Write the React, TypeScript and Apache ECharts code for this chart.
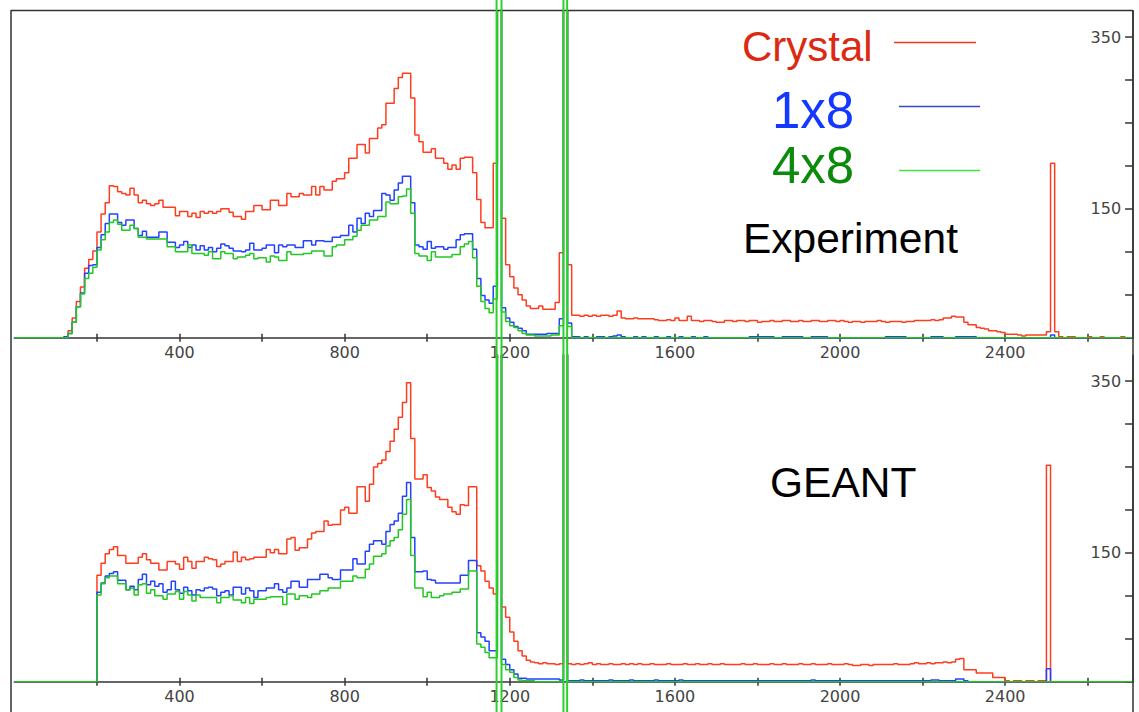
import React, { useEffect, useRef } from "react";
import * as echarts from "echarts";

// ---- axis definitions ----
const X_MIN = 0;
const X_MAX = 2710;
const Y_MAX = 380;
const BIN_START = 100;
const BIN_WIDTH = 10;
const xTicks = [200, 400, 600, 800, 1000, 1200, 1400, 1600, 1800, 2000, 2200, 2400, 2600];
const xTickLabels = [400, 800, 1200, 1600, 2000, 2400];
const yTicks = [0, 50, 100, 150, 200, 250, 300, 350];
const yTickLabels = [150, 350];
// Co-60 full-energy peak edges (off-scale bins), keV
const coLineEdges = [1168, 1180, 1330, 1339];

// ---- Experiment (top panel), bins of 10 starting at 100 ----
const crystalExp = [
  0, 0, 1, 8, 23, 42, 59, 81, 91, 101,
  123, 144, 157, 177, 176, 170, 168, 166, 174, 166,
  157, 160, 156, 154, 156, 160, 152, 152, 152, 142,
  147, 147, 141, 145, 140, 147, 145, 147, 145, 147,
  150, 150, 146, 141, 141, 138, 147, 147, 154, 154,
  149, 149, 160, 160, 154, 154, 168, 164, 164, 168,
  166, 166, 176, 166, 176, 172, 172, 182, 185, 185,
  192, 209, 209, 225, 225, 215, 232, 232, 244, 248,
  273, 273, 290, 303, 308, 308, 279, 236, 228, 216,
  216, 220, 209, 209, 203, 196, 201, 196, 209, 210,
  210, 192, 161, 134, 128, 128, 203, 400, 139, 85,
  71, 58, 50, 44, 37, 34, 34, 37, 33, 33,
  33, 41, 99, 400, 85, 26, 26, 25, 26, 25,
  26, 25, 26, 26, 25, 26, 31, 23, 22, 22,
  23, 22, 22, 22, 22, 21, 20, 20, 21, 20,
  23, 20, 20, 25, 20, 20, 19, 20, 20, 19,
  18, 18, 20, 20, 19, 20, 20, 19, 20, 20,
  18, 19, 19, 20, 19, 19, 20, 20, 19, 19,
  20, 19, 19, 20, 20, 19, 19, 20, 20, 19,
  20, 19, 18, 19, 19, 18, 19, 19, 19, 20,
  19, 18, 19, 19, 19, 18, 19, 19, 20, 20,
  20, 20, 21, 20, 21, 23, 23, 25, 24, 24,
  18, 15, 15, 12, 11, 10, 8, 8, 7, 6,
  4, 4, 4, 3, 2, 3, 3, 3, 3, 3,
  7, 203, 7, 1, 0, 1, 1, 0, 0, 0,
  1, 0, 0, 1, 0, 0, 0, 0, 1, 0,
];
const oneByEightExp = [
  0, 0, 1, 5, 18, 36, 52, 75, 84, 85,
  105, 120, 133, 144, 144, 134, 131, 137, 137, 127,
  119, 124, 117, 117, 117, 123, 123, 111, 111, 105,
  108, 112, 105, 108, 102, 107, 102, 105, 100, 104,
  109, 107, 104, 101, 101, 100, 102, 110, 102, 102,
  104, 108, 108, 99, 108, 106, 108, 108, 105, 105,
  113, 113, 108, 113, 113, 112, 112, 117, 117, 119,
  119, 131, 123, 139, 133, 145, 141, 148, 148, 168,
  166, 160, 172, 180, 188, 188, 157, 108, 106, 103,
  112, 104, 106, 106, 103, 105, 105, 114, 120, 121,
  121, 103, 69, 49, 44, 40, 60, 400, 35, 23,
  18, 13, 11, 8, 4, 4, 4, 4, 4, 5,
  5, 5, 22, 400, 17, 1, 1, 0, 1, 0,
  0, 1, 1, 0, 1, 2, 3, 1, 0, 0,
  1, 0, 1, 0, 0, 1, 0, 0, 1, 0,
  0, 1, 0, 0, 1, 0, 0, 1, 0, 0,
  0, 0, 0, 0, 0, 0, 0, 0, 1, 1,
  1, 1, 1, 1, 0, 0, 1, 1, 1, 1,
  1, 0, 0, 1, 1, 1, 1, 0, 0, 0,
  0, 0, 0, 0, 0, 0, 0, 0, 0, 0,
  0, 1, 1, 1, 1, 1, 0, 0, 0, 0,
  0, 0, 1, 1, 1, 0, 0, 0, 1, 1,
  1, 1, 1, 0, 0, 0, 0, 0, 0, 0,
  0, 0, 0, 0, 0, 0, 0, 0, 0, 0,
  0, 3, 0, 0, 0, 0, 0, 0, 0, 0,
];
const fourByEightExp = [
  0, 0, 0, 5, 18, 36, 51, 69, 75, 82,
  102, 114, 123, 134, 137, 132, 125, 125, 131, 127,
  117, 117, 115, 115, 115, 115, 115, 106, 106, 100,
  100, 100, 108, 98, 98, 98, 96, 100, 92, 92,
  100, 98, 98, 92, 94, 94, 96, 98, 92, 93,
  93, 88, 95, 94, 90, 90, 100, 97, 97, 97,
  98, 98, 101, 101, 101, 95, 95, 106, 108, 108,
  114, 114, 118, 125, 131, 131, 137, 137, 141, 141,
  158, 156, 156, 164, 165, 173, 145, 98, 95, 95,
  90, 100, 94, 94, 94, 94, 97, 97, 106, 109,
  112, 93, 60, 42, 34, 29, 45, 400, 30, 19,
  14, 12, 8, 5, 3, 3, 2, 2, 2, 2,
  3, 3, 14, 400, 13, 0, 0, 0, 0, 0,
];

// ---- GEANT (bottom panel), bins of 10 starting at 100 ----
const crystalSim = [
  0, 0, 0, 0, 0, 0, 0, 0, 0, 0,
  124, 138, 149, 154, 157, 147, 147, 138, 138, 138,
  145, 149, 142, 138, 138, 130, 130, 140, 140, 137,
  131, 145, 140, 132, 140, 140, 145, 143, 142, 134,
  137, 140, 140, 151, 140, 145, 142, 143, 145, 145,
  145, 154, 150, 154, 149, 149, 166, 168, 153, 156,
  156, 166, 173, 175, 175, 187, 182, 183, 183, 200,
  203, 196, 196, 227, 227, 210, 230, 250, 254, 258,
  268, 280, 294, 308, 325, 348, 283, 236, 236, 241,
  226, 222, 215, 212, 212, 203, 198, 195, 206, 205,
  227, 227, 135, 129, 117, 109, 102, 400, 87, 75,
  58, 47, 36, 30, 25, 23, 22, 21, 22, 21,
  21, 20, 21, 400, 21, 20, 21, 20, 21, 22,
  20, 21, 20, 20, 21, 20, 20, 21, 20, 21,
  20, 21, 20, 20, 21, 20, 20, 20, 21, 20,
  20, 20, 21, 20, 20, 21, 20, 20, 21, 20,
  20, 21, 20, 20, 20, 20, 21, 20, 20, 21,
  20, 20, 20, 21, 20, 20, 21, 20, 20, 20,
  21, 20, 20, 21, 20, 20, 20, 21, 20, 20,
  20, 21, 20, 19, 19, 20, 20, 19, 20, 20,
  20, 20, 20, 21, 20, 20, 20, 21, 22, 21,
  21, 22, 21, 22, 22, 23, 22, 23, 26, 27,
  14, 14, 14, 10, 10, 10, 10, 5, 5, 5,
  1, 0, 1, 1, 0, 1, 1, 0, 1, 1,
  252, 0, 0, 0, 0, 0, 0, 0, 0, 0,
];
const oneByEightSim = [
  0, 0, 0, 0, 0, 0, 0, 0, 0, 0,
  104, 115, 123, 126, 128, 118, 118, 107, 111, 107,
  119, 125, 113, 117, 111, 114, 104, 107, 117, 107,
  103, 110, 106, 101, 107, 106, 109, 110, 108, 100,
  104, 106, 101, 110, 110, 102, 109, 106, 98, 106,
  106, 109, 109, 114, 107, 104, 109, 117, 117, 110,
  110, 119, 119, 119, 125, 125, 121, 119, 119, 130,
  130, 130, 143, 137, 137, 152, 160, 164, 164, 160,
  175, 183, 187, 196, 216, 232, 168, 128, 128, 129,
  119, 118, 115, 115, 115, 115, 115, 115, 124, 124,
  141, 141, 57, 52, 47, 36, 36, 400, 26, 20,
  14, 9, 4, 4, 3, 3, 3, 3, 3, 3,
  3, 3, 2, 400, 1, 1, 1, 2, 1, 1,
  1, 1, 1, 1, 2, 1, 1, 1, 1, 2,
  1, 1, 1, 1, 1, 2, 1, 1, 1, 1,
  1, 2, 1, 1, 1, 1, 1, 1, 1, 1,
  1, 1, 1, 1, 1, 1, 1, 1, 1, 1,
  1, 1, 1, 1, 1, 1, 1, 1, 1, 1,
  1, 1, 1, 2, 1, 1, 1, 1, 1, 1,
  1, 1, 1, 1, 1, 1, 1, 1, 1, 1,
  1, 1, 1, 1, 1, 1, 1, 1, 1, 1,
  1, 1, 2, 2, 1, 1, 1, 1, 3, 3,
  1, 0, 0, 0, 0, 0, 0, 0, 0, 0,
  0, 0, 0, 0, 0, 0, 0, 0, 0, 0,
  15, 0, 0, 0, 0, 0, 0, 0, 0, 0,
];
const fourByEightSim = [
  0, 0, 0, 0, 0, 0, 0, 0, 0, 0,
  101, 114, 121, 123, 123, 114, 114, 107, 109, 101,
  113, 114, 103, 107, 100, 100, 96, 102, 102, 105,
  96, 105, 101, 94, 101, 98, 98, 98, 98, 92,
  98, 98, 100, 95, 95, 92, 98, 91, 96, 96,
  96, 98, 99, 99, 99, 90, 102, 102, 96, 100,
  100, 98, 102, 102, 106, 106, 109, 109, 109, 117,
  117, 117, 123, 121, 121, 131, 137, 146, 146, 149,
  158, 164, 168, 177, 195, 212, 147, 109, 109, 99,
  104, 98, 98, 100, 102, 102, 104, 104, 108, 108,
  129, 129, 44, 40, 34, 28, 28, 400, 20, 14,
  11, 5, 2, 1, 1, 1, 0, 0, 0, 0,
  0, 0, 0, 400, 0, 0, 0, 0, 0, 0,
];

const RED = "#ff3c1e";
const BLUE = "#2242ff";
const GREEN = "#22c822";
const AXIS = "#333333";
const LABEL = "#444444";

function toSteps(values: number[]): number[][] {
  const pts: number[][] = [[X_MIN, 0]];
  values.forEach((v, i) => pts.push([BIN_START + i * BIN_WIDTH, v]));
  pts.push([BIN_START + values.length * BIN_WIDTH, 0]);
  pts.push([X_MAX, 0]);
  return pts;
}

const GRID_LEFT = 14.4;
const GRID_WIDTH = 1118.7;
const GRID_H = 326.4;
const GRID_TOPS = [11.3, 355.3];

function xAxesFor(gridIndex: number) {
  const lineStyle = { color: AXIS, width: 1.5 };
  const base = {
    type: "value",
    gridIndex,
    position: "bottom",
    min: X_MIN,
    max: X_MAX,
    interval: 200,
    splitLine: { show: false },
  };
  return [
    {
      ...base,
      axisLine: { show: true, onZero: false, lineStyle },
      axisTick: { show: true, length: 4, customValues: xTicks, lineStyle },
      axisLabel: {
        show: true,
        customValues: xTickLabels,
        formatter: (v: number) => (xTickLabels.indexOf(v) >= 0 ? String(v) : ""),
        color: LABEL,
        fontSize: 16,
        fontFamily: "DejaVu Sans",
        margin: 7,
      },
    },
    {
      ...base,
      axisLine: { show: false },
      axisTick: { show: true, inside: true, length: 4, customValues: xTicks, lineStyle },
      axisLabel: { show: false },
    },
  ];
}

function yAxisFor(gridIndex: number) {
  const lineStyle = { color: AXIS, width: 1.5 };
  return {
    type: "value",
    gridIndex,
    position: "right",
    min: 0,
    max: Y_MAX,
    interval: 50,
    splitLine: { show: false },
    axisLine: { show: true, onZero: false, lineStyle },
    axisTick: { show: true, inside: true, length: 8, customValues: yTicks, lineStyle },
    axisLabel: {
      show: true,
      inside: true,
      customValues: yTickLabels,
      formatter: (v: number) => (yTickLabels.indexOf(v) >= 0 ? String(v) : ""),
      color: LABEL,
      fontSize: 16,
      fontFamily: "DejaVu Sans",
      margin: 12,
    },
  };
}

function stepSeries(name: string, values: number[], color: string, panel: number) {
  return {
    type: "line",
    name,
    xAxisIndex: panel * 2,
    yAxisIndex: panel,
    data: toSteps(values),
    step: "end",
    symbol: "none",
    showSymbol: false,
    silent: true,
    lineStyle: { color, width: 1.5 },
    itemStyle: { color },
  };
}

export default function App() {
  const ref = useRef<HTMLDivElement>(null);
  useEffect(() => {
    const chart = echarts.init(ref.current as HTMLDivElement, null, { renderer: "svg" });
    const option: any = {
      animation: false,
      backgroundColor: "#ffffff",
      grid: GRID_TOPS.map((top) => ({ left: GRID_LEFT, top, width: GRID_WIDTH, height: GRID_H })),
      xAxis: [...xAxesFor(0), ...xAxesFor(1)],
      yAxis: [yAxisFor(0), yAxisFor(1)],
      series: [
        stepSeries("Crystal", crystalExp, RED, 0),
        stepSeries("1x8", oneByEightExp, BLUE, 0),
        stepSeries("4x8", fourByEightExp, GREEN, 0),
        stepSeries("Crystal GEANT", crystalSim, RED, 1),
        stepSeries("1x8 GEANT", oneByEightSim, BLUE, 1),
        stepSeries("4x8 GEANT", fourByEightSim, GREEN, 1),
      ],
    };
    chart.setOption(option);

    const coX = coLineEdges.map((v) => chart.convertToPixel({ xAxisIndex: 0 }, v) as number);
    const frame = { stroke: AXIS, lineWidth: 1.5 };
    const text = (t: string, x: number, y: number, fill: string, size: number) => ({
      type: "text",
      x,
      y,
      z: 50,
      style: {
        text: t,
        fill,
        fontSize: size,
        fontFamily: "Liberation Sans, Arial, sans-serif",
        align: "left",
        verticalAlign: "middle",
      },
    });
    const legendLine = (x1: number, x2: number, y: number, stroke: string) => ({
      type: "line",
      z: 50,
      shape: { x1, y1: y, x2, y2: y },
      style: { stroke, lineWidth: 1.5 },
    });
    chart.setOption({
      graphic: [
        { type: "line", z: 40, shape: { x1: 11, y1: 10, x2: 11, y2: 712 }, style: frame },
        { type: "line", z: 40, shape: { x1: 11, y1: 10.5, x2: 1133, y2: 10.5 }, style: frame },
        { type: "line", z: 40, shape: { x1: 1133, y1: 10, x2: 1133, y2: 712 }, style: frame },
        ...coX.map((x) => ({
          type: "line",
          z: 60,
          shape: { x1: x, y1: 0, x2: x, y2: 712 },
          style: { stroke: "#2ccf2c", lineWidth: 2 },
        })),
        text("Crystal", 742, 46, "#dc2a12", 42),
        legendLine(894, 976, 42.5, "#f0381e"),
        text("1x8", 772, 110, "#1438ff", 51),
        legendLine(899, 980, 106.5, "#3a48c8"),
        text("4x8", 772, 165, "#0b8a0b", 51),
        legendLine(899, 980, 170.5, "#3ee83e"),
        text("Experiment", 743, 238, "#000000", 42.5),
        text("GEANT", 770, 482, "#000000", 42.5),
      ],
    });
    return () => chart.dispose();
  }, []);
  return (
    <div
      ref={ref}
      style={{ position: "absolute", left: 0, top: 0, width: 1139, height: 712, background: "#ffffff" }}
    />
  );
}
